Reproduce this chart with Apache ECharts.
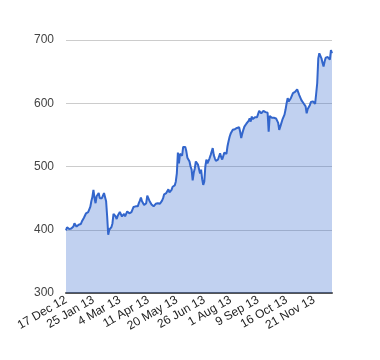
<!DOCTYPE html>
<html><head><meta charset="utf-8">
<script src="https://cdn.jsdelivr.net/npm/echarts@6/dist/echarts.min.js"></script>
<style>html,body{margin:0;padding:0;background:#fff}#c{width:380px;height:360px}</style>
</head><body><div id="c"></div>
<script>
// Daily closing values, one per trading day from 17 Dec 2012 to 17 Dec 2013
const values = [
399,404,406,401,400,402,401,405,410,407,
405,407,408,408,409,413,416,419,421,
426,429,428,429,436,445,452,463,450,442,
453,455,458,450,449,450,452,458,460,445,
421,392,400,397,404,410,425,422,421,
417,422,425,428,429,421,423,425,421,425,
429,427,426,429,428,429,436,439,437,436,
437,442,446,451,445,442,439,440,442,
454,450,446,445,440,439,437,440,441,442,
442,442,441,441,446,450,456,458,458,461,
464,459,462,463,468,466,470,476,489,
522,505,520,518,517,531,532,531,524,514,
511,508,500,495,478,490,497,508,511,503,
496,489,495,480,471,476,500,511,505,506,
513,518,521,529,518,513,509,510,511,
508,521,515,511,508,522,521,520,532,540,
547,552,555,558,557,559,560,561,558,
562,555,545,552,558,563,565,568,566,572,
576,571,579,575,577,578,576,578,580,588,
586,584,582,588,591,586,584,585,555,580,
578,577,575,577,579,576,573,569,558,
563,566,574,578,582,590,600,608,603,605,
608,612,616,613,618,620,622,624,613,609,
605,603,600,597,595,584,591,594,597,
602,605,603,601,599,615,632,671,679,675,
671,664,658,666,672,674,673,674,669,684,
679
];
const startDate = [2012, 11, 17];
const holidays = ['2012-12-25','2013-01-01','2013-01-21','2013-02-18','2013-03-29','2013-05-27','2013-07-04','2013-09-02','2013-11-28','2013-12-25'];
const tickLabels = ['17 Dec 12','25 Jan 13','4 Mar 13','11 Apr 13','20 May 13','26 Jun 13','1 Aug 13','9 Sep 13','16 Oct 13','21 Nov 13'];
const yTicks = [300, 400, 500, 600, 700];

const MONTHS = ['Jan','Feb','Mar','Apr','May','Jun','Jul','Aug','Sep','Oct','Nov','Dec'];
const categories = [];
let d = new Date(Date.UTC(startDate[0], startDate[1], startDate[2]));
while (categories.length < values.length) {
  const iso = d.toISOString().slice(0,10);
  const wd = d.getUTCDay();
  if (wd !== 0 && wd !== 6 && holidays.indexOf(iso) < 0) {
    categories.push(d.getUTCDate() + ' ' + MONTHS[d.getUTCMonth()] + ' ' + String(d.getUTCFullYear()).slice(2));
  }
  d = new Date(d.getTime() + 86400000);
}

const chart = echarts.init(document.getElementById('c'));
chart.setOption({
  animation: false,
  grid: { left: 66, right: 48, top: 40, bottom: 67 },
  xAxis: {
    type: 'category', data: categories, boundaryGap: false,
    axisTick: { show: false },
    axisLine: { lineStyle: { color: '#555', width: 2 } },
    splitLine: { show: false },
    axisLabel: {
      rotate: 30, margin: 6, color: '#222', fontFamily: 'Liberation Sans, Arial', fontSize: 12,
      interval: function (i, v) { return tickLabels.indexOf(v) >= 0; }
    }
  },
  yAxis: {
    type: 'value', min: yTicks[0], max: yTicks[yTicks.length - 1], interval: 100,
    axisLine: { show: false }, axisTick: { show: false },
    splitLine: { lineStyle: { color: '#ccc', width: 1 } },
    axisLabel: { margin: 12, color: '#444', fontFamily: 'Liberation Sans, Arial', fontSize: 12 }
  },
  series: [{
    type: 'line', data: values, symbol: 'none',
    lineStyle: { color: '#3366cc', width: 2 },
    areaStyle: { color: '#3366cc', opacity: 0.3 },
    itemStyle: { color: '#3366cc' }
  }]
});
</script></body></html>
